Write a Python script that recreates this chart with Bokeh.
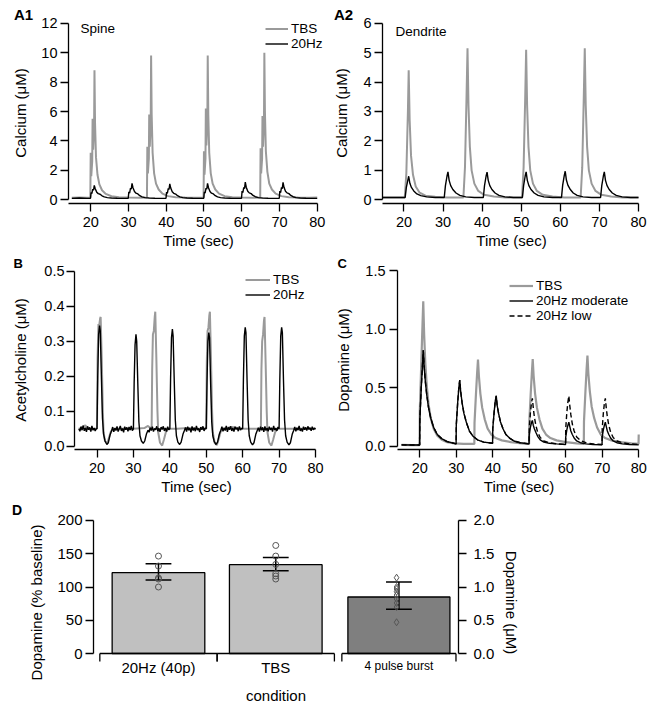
from bokeh.plotting import figure
from bokeh.models import (Range1d, LinearAxis, FixedTicker, Legend, LegendItem, Label, NumeralTickFormatter)
from bokeh.layouts import column, row
from bokeh.embed import file_html
from bokeh.resources import INLINE

# ---------------- data ----------------
# Panel A1: spine calcium (uM) vs time (s)
spine_tbs = [(15.0,0.14),(17.0,0.16),(19.0,0.14),(19.9,0.15),
    (20.0,3.2),(20.15,1.6),(20.4,2.6),(20.5,5.5),(20.65,3.4),(20.9,5.0),(21.0,8.8),(21.15,5.2),(21.4,2.9),(21.8,1.7),(22.3,1.05),(23.0,0.65),(24.0,0.4),(25.5,0.24),(27.5,0.17),(30.0,0.15),(33.0,0.14),(34.9,0.15),
    (35.0,3.6),(35.15,1.8),(35.4,2.8),(35.5,5.8),(35.65,3.6),(35.9,5.3),(36.0,9.8),(36.15,5.8),(36.4,3.2),(36.8,1.8),(37.3,1.1),(38.0,0.7),(39.0,0.42),(40.5,0.25),(42.5,0.17),(45.0,0.15),(48.0,0.14),(49.9,0.15),
    (50.0,3.3),(50.15,1.7),(50.4,2.8),(50.5,6.2),(50.65,3.7),(50.9,5.4),(51.0,9.8),(51.15,5.8),(51.4,3.2),(51.8,1.8),(52.3,1.1),(53.0,0.7),(54.0,0.42),(55.5,0.25),(57.5,0.17),(60.0,0.15),(63.0,0.14),(64.9,0.15),
    (65.0,3.5),(65.15,1.8),(65.4,2.8),(65.5,5.7),(65.65,3.6),(65.9,5.4),(66.0,10.0),(66.15,6.0),(66.4,3.3),(66.8,1.9),(67.3,1.1),(68.0,0.7),(69.0,0.42),(70.5,0.25),(72.5,0.17),(75.0,0.15),(78.0,0.14),(80.0,0.15)]
spine_20hz = [(15.0,0.1),(17.0,0.12),(19.0,0.1),(19.95,0.11),
    (20.1,0.5),(20.3,0.42),(20.55,0.72),(20.75,0.65),(20.95,0.98),(21.2,0.75),(21.6,0.52),(22.0,0.42),(22.5,0.38),(23.0,0.27),(23.6,0.2),(24.4,0.15),(25.5,0.12),(27.0,0.11),(29.0,0.1),(29.95,0.11),
    (30.1,0.55),(30.3,0.45),(30.55,0.8),(30.75,0.72),(30.95,1.12),(31.2,0.82),(31.6,0.56),(32.0,0.45),(32.5,0.4),(33.0,0.28),(33.6,0.2),(34.4,0.15),(35.5,0.12),(37.0,0.11),(39.0,0.1),(39.95,0.11),
    (40.1,0.52),(40.3,0.44),(40.55,0.78),(40.75,0.7),(40.95,1.08),(41.2,0.8),(41.6,0.55),(42.0,0.44),(42.5,0.39),(43.0,0.28),(43.6,0.2),(44.4,0.15),(45.5,0.12),(47.0,0.11),(49.0,0.1),(49.95,0.11),
    (50.1,0.55),(50.3,0.45),(50.55,0.8),(50.75,0.72),(50.95,1.12),(51.2,0.82),(51.6,0.56),(52.0,0.45),(52.5,0.4),(53.0,0.28),(53.6,0.2),(54.4,0.15),(55.5,0.12),(57.0,0.11),(59.0,0.1),(59.95,0.11),
    (60.1,0.6),(60.3,0.48),(60.55,0.85),(60.75,0.76),(60.95,1.2),(61.2,0.86),(61.6,0.58),(62.0,0.47),(62.5,0.42),(63.0,0.3),(63.6,0.21),(64.4,0.15),(65.5,0.12),(67.0,0.11),(69.0,0.1),(69.95,0.11),
    (70.1,0.6),(70.3,0.48),(70.55,0.85),(70.75,0.76),(70.95,1.18),(71.2,0.85),(71.6,0.58),(72.0,0.47),(72.5,0.42),(73.0,0.3),(73.6,0.21),(74.4,0.15),(75.5,0.12),(77.0,0.11),(80.0,0.1)]

# Panel A2: dendrite calcium (uM)
dend_tbs = [(13.5,0.08),(17.0,0.08),(20.2,0.08),
    (20.6,0.9),(21.0,3.0),(21.2,4.4),(21.45,2.7),(21.8,1.5),(22.3,0.85),(23.0,0.45),(24.0,0.24),(25.5,0.14),(28.0,0.1),(31.0,0.08),(35.2,0.08),
    (35.6,1.1),(36.0,3.5),(36.25,5.15),(36.5,3.2),(36.85,1.8),(37.3,1.0),(38.0,0.55),(39.0,0.3),(40.5,0.17),(43.0,0.11),(46.0,0.08),(50.2,0.08),
    (50.6,1.1),(51.0,3.4),(51.25,5.1),(51.5,3.2),(51.85,1.8),(52.3,1.0),(53.0,0.55),(54.0,0.3),(55.5,0.17),(58.0,0.11),(61.0,0.08),(65.2,0.08),
    (65.6,1.1),(66.0,3.5),(66.25,5.15),(66.5,3.2),(66.85,1.8),(67.3,1.0),(68.0,0.55),(69.0,0.3),(70.5,0.17),(73.0,0.11),(76.0,0.08),(80.0,0.08)]
dend_20hz = [(13.5,0.08),(17.0,0.08),(20.3,0.08),
    (20.6,0.42),(21.0,0.68),(21.2,0.8),(21.5,0.56),(21.9,0.42),(22.5,0.3),(23.3,0.2),(24.3,0.14),(25.8,0.1),(28.0,0.08),(30.3,0.08),
    (30.6,0.48),(31.0,0.8),(31.25,0.95),(31.55,0.66),(31.95,0.48),(32.5,0.35),(33.3,0.23),(34.3,0.15),(35.8,0.1),(38.0,0.08),(40.3,0.08),
    (40.6,0.48),(41.0,0.8),(41.25,0.94),(41.55,0.66),(41.95,0.48),(42.5,0.35),(43.3,0.23),(44.3,0.15),(45.8,0.1),(48.0,0.08),(50.3,0.08),
    (50.6,0.48),(51.0,0.8),(51.25,0.95),(51.55,0.66),(51.95,0.48),(52.5,0.35),(53.3,0.23),(54.3,0.15),(55.8,0.1),(58.0,0.08),(60.3,0.08),
    (60.6,0.5),(61.0,0.82),(61.25,0.97),(61.55,0.67),(61.95,0.49),(62.5,0.36),(63.3,0.23),(64.3,0.15),(65.8,0.1),(68.0,0.08),(70.3,0.08),
    (70.6,0.48),(71.0,0.8),(71.25,0.95),(71.55,0.66),(71.95,0.48),(72.5,0.35),(73.3,0.23),(74.3,0.15),(75.8,0.1),(78.0,0.08),(80.0,0.08)]

# Panel B: acetylcholine (uM)
ach_tbs = [(15.0,0.05),(15.5,0.052),(16.2,0.057),(16.8,0.06),(17.5,0.05),(18.5,0.048),(19.5,0.05),
    (20.0,0.05),(20.15,0.25),(20.4,0.35),(20.6,0.345),(20.85,0.365),(21.0,0.37),(21.3,0.25),(21.6,0.1),(21.8,0.04),(22.2,0.015),(22.8,0.008),(23.3,0.025),(23.8,0.042),(24.5,0.05),(27.0,0.05),(30.0,0.05),(33.0,0.052),(34.0,0.058),(34.9,0.05),
    (35.0,0.05),(35.15,0.22),(35.35,0.32),(35.6,0.33),(35.85,0.37),(36.0,0.385),(36.3,0.25),(36.6,0.1),(36.8,0.04),(37.3,0.01),(37.9,0.002),(38.4,0.02),(38.9,0.04),(39.5,0.05),(42.0,0.05),(45.0,0.052),(48.0,0.05),(49.9,0.05),
    (50.0,0.05),(50.15,0.24),(50.35,0.33),(50.6,0.34),(50.85,0.375),(51.0,0.385),(51.3,0.25),(51.6,0.1),(51.8,0.04),(52.3,0.01),(52.9,0.003),(53.4,0.02),(53.9,0.04),(54.5,0.05),(57.0,0.055),(60.0,0.05),(63.0,0.05),(64.9,0.05),
    (65.0,0.05),(65.15,0.22),(65.35,0.3),(65.6,0.32),(65.85,0.36),(66.0,0.37),(66.3,0.24),(66.6,0.1),(66.8,0.04),(67.3,0.01),(67.9,0.002),(68.4,0.02),(68.9,0.04),(69.5,0.05),(72.0,0.05),(75.0,0.05),(78.0,0.05),(80.0,0.05)]
ach_20hz = [(15.0,.050),(15.3,.043),(15.6,.056),(15.9,.046),(16.2,.059),(16.5,.044),(16.8,.053),(17.1,.041),(17.4,.057),(17.7,.047),(18.0,.054),(18.3,.042),(18.6,.058),(18.9,.046),(19.2,.052),(19.5,.044),(19.8,.051),
    (20.0,.050),(20.2,.200),(20.45,.320),(20.7,.345),(20.9,.330),(21.2,.200),(21.5,.080),(21.8,.035),(22.2,.015),(22.7,.005),(23.1,.010),(23.6,.033),(24.0,.044),
    (24.3,.055),(24.6,.041),(24.9,.052),(25.2,.045),(25.5,.057),(25.8,.042),(26.1,.050),(26.4,.058),(26.7,.044),(27.0,.051),(27.3,.040),(27.6,.056),(27.9,.047),(28.2,.054),(28.5,.043),(28.8,.055),(29.1,.046),(29.4,.058),(29.7,.045),
    (30.0,.050),(30.2,.180),(30.45,.290),(30.7,.320),(30.9,.300),(31.2,.180),(31.5,.070),(31.8,.030),(32.2,.015),(32.7,.008),(33.1,.015),(33.6,.036),(34.0,.046),
    (34.3,.040),(34.6,.053),(34.9,.045),(35.2,.056),(35.5,.042),(35.8,.051),(36.1,.047),(36.4,.057),(36.7,.043),(37.0,.052),(37.3,.041),(37.6,.055),(37.9,.048),(38.2,.057),(38.5,.044),(38.8,.052),(39.1,.042),(39.4,.056),(39.7,.047),
    (40.0,.050),(40.2,.190),(40.45,.310),(40.7,.335),(40.9,.315),(41.2,.190),(41.5,.075),(41.8,.030),(42.2,.012),(42.7,.005),(43.1,.012),(43.6,.034),(44.0,.045),
    (44.3,.054),(44.6,.042),(44.9,.056),(45.2,.046),(45.5,.052),(45.8,.040),(46.1,.057),(46.4,.045),(46.7,.053),(47.0,.043),(47.3,.058),(47.6,.046),(47.9,.051),(48.2,.041),(48.5,.055),(48.8,.047),(49.1,.057),(49.4,.044),(49.7,.052),
    (50.0,.050),(50.2,.180),(50.45,.300),(50.7,.325),(50.9,.310),(51.2,.180),(51.5,.070),(51.8,.030),(52.2,.013),(52.7,.005),(53.1,.012),(53.6,.035),(54.0,.046),
    (54.3,.056),(54.6,.043),(54.9,.052),(55.2,.045),(55.5,.058),(55.8,.041),(56.1,.054),(56.4,.047),(56.7,.057),(57.0,.044),(57.3,.052),(57.6,.042),(57.9,.056),(58.2,.048),(58.5,.053),(58.8,.043),(59.1,.057),(59.4,.046),(59.7,.051),
    (60.0,.050),(60.2,.190),(60.45,.315),(60.7,.340),(60.9,.325),(61.2,.190),(61.5,.075),(61.8,.030),(62.2,.012),(62.7,.004),(63.1,.010),(63.6,.034),(64.0,.045),
    (64.3,.053),(64.6,.042),(64.9,.056),(65.2,.046),(65.5,.054),(65.8,.041),(66.1,.057),(66.4,.045),(66.7,.052),(67.0,.043),(67.3,.056),(67.6,.047),(67.9,.053),(68.2,.042),(68.5,.058),(68.8,.046),(69.1,.052),(69.4,.044),(69.7,.055),
    (70.0,.050),(70.2,.190),(70.45,.315),(70.7,.340),(70.9,.325),(71.2,.190),(71.5,.075),(71.8,.030),(72.2,.012),(72.7,.004),(73.1,.010),(73.6,.034),(74.0,.045),
    (74.3,.055),(74.6,.043),(74.9,.053),(75.2,.046),(75.5,.058),(75.8,.044),(76.1,.051),(76.4,.042),(76.7,.056),(77.0,.047),(77.3,.054),(77.6,.045),(77.9,.057),(78.2,.048),(78.5,.053),(78.8,.044),(79.1,.056),(79.4,.047),(79.7,.052),(80.0,.049)]

# Panel C: dopamine (uM)
dop_tbs = [(15.0,0.012),(18.0,0.01),(19.95,0.01),
    (20.0,0.3),(20.4,0.7),(20.75,1.05),(20.95,1.24),(21.2,0.95),(21.5,0.72),(21.9,0.52),(22.4,0.36),(23.0,0.24),(23.8,0.15),(24.8,0.09),(26.0,0.055),(27.5,0.035),(29.5,0.025),(32.0,0.02),(34.95,0.02),
    (35.0,0.2),(35.4,0.45),(35.7,0.62),(35.95,0.74),(36.2,0.6),(36.6,0.45),(37.1,0.33),(37.8,0.23),(38.6,0.15),(39.6,0.1),(40.8,0.07),(42.5,0.05),(45.0,0.035),(48.0,0.025),(49.95,0.02),
    (50.0,0.2),(50.4,0.45),(50.7,0.62),(50.95,0.745),(51.2,0.6),(51.6,0.45),(52.1,0.33),(52.8,0.23),(53.6,0.15),(54.6,0.1),(55.8,0.07),(57.5,0.05),(60.0,0.035),(63.0,0.025),(64.95,0.02),
    (65.0,0.21),(65.4,0.47),(65.7,0.65),(65.95,0.775),(66.2,0.62),(66.6,0.47),(67.1,0.34),(67.8,0.24),(68.6,0.16),(69.6,0.1),(70.8,0.07),(72.5,0.05),(75.0,0.035),(78.0,0.025),(79.95,0.02),(80.0,0.1)]
dop_mod = [(15.0,0.012),(18.0,0.01),(19.95,0.01),
    (20.0,0.22),(20.4,0.5),(20.75,0.7),(20.95,0.82),(21.2,0.68),(21.5,0.56),(21.9,0.44),(22.4,0.33),(23.0,0.24),(23.8,0.16),(24.8,0.1),(26.0,0.065),(27.5,0.04),(29.95,0.02),
    (30.0,0.18),(30.4,0.38),(30.7,0.5),(30.95,0.565),(31.2,0.47),(31.6,0.37),(32.1,0.28),(32.8,0.2),(33.6,0.13),(34.6,0.085),(35.8,0.055),(37.5,0.035),(39.95,0.025),
    (40.0,0.15),(40.4,0.3),(40.7,0.39),(40.95,0.43),(41.2,0.35),(41.6,0.28),(42.1,0.21),(42.8,0.15),(43.6,0.1),(44.6,0.07),(45.8,0.045),(47.5,0.03),(49.95,0.02),
    (50.0,0.1),(50.3,0.16),(50.6,0.2),(50.85,0.22),(51.1,0.18),(51.4,0.15),(51.8,0.12),(52.3,0.085),(53.0,0.055),(54.0,0.035),(55.5,0.025),(57.5,0.02),(59.95,0.015),
    (60.0,0.08),(60.3,0.14),(60.6,0.18),(60.85,0.205),(61.1,0.17),(61.4,0.13),(61.8,0.1),(62.3,0.07),(63.0,0.045),(64.0,0.03),(65.5,0.02),(67.5,0.015),(69.95,0.012),
    (70.0,0.08),(70.3,0.14),(70.6,0.18),(70.85,0.205),(71.1,0.17),(71.4,0.13),(71.8,0.1),(72.3,0.07),(73.0,0.045),(74.0,0.03),(75.5,0.02),(77.5,0.015),(80.0,0.012)]
dop_low = [(15.0,0.012),(18.0,0.01),(19.95,0.01),
    (20.0,0.22),(20.4,0.5),(20.75,0.7),(20.95,0.82),(21.2,0.68),(21.5,0.56),(21.9,0.44),(22.4,0.33),(23.0,0.24),(23.8,0.16),(24.8,0.1),(26.0,0.065),(27.5,0.04),(29.95,0.02),
    (30.0,0.18),(30.4,0.38),(30.7,0.5),(30.95,0.565),(31.2,0.47),(31.6,0.37),(32.1,0.28),(32.8,0.2),(33.6,0.13),(34.6,0.085),(35.8,0.055),(37.5,0.035),(39.95,0.025),
    (40.0,0.15),(40.4,0.3),(40.7,0.39),(40.95,0.43),(41.2,0.35),(41.6,0.28),(42.1,0.21),(42.8,0.15),(43.6,0.1),(44.6,0.07),(45.8,0.045),(47.5,0.03),(49.95,0.02),
    (50.0,0.15),(50.3,0.28),(50.6,0.37),(50.85,0.41),(51.1,0.33),(51.4,0.25),(51.8,0.18),(52.3,0.12),(53.0,0.075),(54.0,0.045),(55.5,0.03),(57.5,0.02),(59.95,0.015),
    (60.0,0.15),(60.3,0.29),(60.6,0.38),(60.85,0.43),(61.1,0.35),(61.4,0.27),(61.8,0.19),(62.3,0.13),(63.0,0.08),(64.0,0.05),(65.5,0.03),(67.5,0.02),(69.95,0.015),
    (70.0,0.15),(70.3,0.28),(70.6,0.37),(70.85,0.41),(71.1,0.33),(71.4,0.25),(71.8,0.18),(72.3,0.12),(73.0,0.075),(74.0,0.045),(75.5,0.03),(77.5,0.02),(80.0,0.015)]

# Panel D: bars
categories = ["20Hz (40p)", "TBS", "4 pulse burst"]
pct_means = [121.5, 133.5]            # % baseline (left axis)
pct_err_low = [110.5, 124.5]
pct_err_high = [135.0, 144.5]
pct_points = [[146.5, 131.5, 113.5, 112.0, 100.0],
              [162.5, 146.5, 134.0, 120.0, 116.5, 112.0]]
um_mean = 0.85                        # uM (right axis)
um_err = [0.665, 1.075]
um_points = [1.14, 1.0, 0.97, 0.93, 0.88, 0.82, 0.76, 0.70, 0.47]

x_ticks = [20, 30, 40, 50, 60, 70, 80]

# ---------------- style ----------------
FONT = "Liberation Sans"
GRAY = "#9a9a9a"
BLACK = "#000000"

def unz(pairs):
    return [a for a, b in pairs], [b for a, b in pairs]

def make_fig(w, h, xr, yr, l, r, t, b):
    p = figure(width=w, height=h, x_range=Range1d(*xr), y_range=Range1d(*yr),
               output_backend="svg", toolbar_location=None,
               min_border_left=l, min_border_right=r, min_border_top=t, min_border_bottom=b)
    p.outline_line_color = None
    p.xgrid.grid_line_color = None
    p.ygrid.grid_line_color = None
    p.background_fill_color = "white"
    p.border_fill_color = "white"
    return p

def style_axis(ax, ticks, bounds, label, lab_standoff=3, axis_standoff=6, label_size="14.5px", fmt=None):
    ax.ticker = FixedTicker(ticks=ticks, minor_ticks=[])
    if fmt:
        ax.formatter = NumeralTickFormatter(format=fmt)
    ax.bounds = bounds
    ax.axis_label = label
    ax.axis_label_text_font = FONT
    ax.axis_label_text_font_size = "15px"
    ax.axis_label_text_font_style = "normal"
    ax.axis_label_text_color = BLACK
    ax.axis_label_standoff = axis_standoff
    ax.major_label_text_font = FONT
    ax.major_label_text_font_size = label_size
    ax.major_label_text_color = BLACK
    ax.major_label_standoff = lab_standoff
    ax.major_tick_out = 8
    ax.major_tick_in = 0
    ax.minor_tick_out = 0
    ax.minor_tick_in = 0
    ax.axis_line_width = 1.3
    ax.major_tick_line_width = 1.3
    ax.axis_line_color = BLACK
    ax.major_tick_line_color = BLACK

def panel_title(p, text, text_left, frame_left, size, valign="bottom"):
    p.title.text = text
    p.title.align = "left"
    p.title.offset = text_left - frame_left
    p.title.text_font = FONT
    p.title.text_font_size = size
    p.title.text_font_style = "bold"
    p.title.text_color = BLACK
    p.title.standoff = 0
    p.title.vertical_align = valign

def in_label(p, x, y, text, size="13.5px", align="left"):
    p.add_layout(Label(x=x, y=y, text=text, text_font=FONT, text_font_size=size,
                       text_align=align, text_baseline="middle", text_color=BLACK))

def add_legend(p, items, loc, glyph_w):
    lg = Legend(items=items, location=loc, orientation="vertical",
                background_fill_alpha=0, border_line_color=None,
                padding=0, margin=0, spacing=0,
                glyph_width=glyph_w, glyph_height=15, label_height=15,
                label_standoff=3, label_text_font=FONT, label_text_font_size="13.5px",
                label_text_color=BLACK)
    p.add_layout(lg)

# ---------------- A1 ----------------
a1 = make_fig(330, 253, (14.12, 82.99), (-0.251, 12.048), 68, 2, 22, 50)
t, y = unz(spine_tbs)
r_tbs = a1.line(t, y, line_color=GRAY, line_width=2)
t, y = unz(spine_20hz)
r_20 = a1.line(t, y, line_color=BLACK, line_width=1.4)
style_axis(a1.xaxis[0], x_ticks, (14.12, 80), "Time (sec)", lab_standoff=5, axis_standoff=2)
style_axis(a1.yaxis[0], [0, 2, 4, 6, 8, 10, 12], (0, 12), "Calcium (\u03bcM)", lab_standoff=3, axis_standoff=9)
in_label(a1, 17.3, 11.64, "Spine")
add_legend(a1, [LegendItem(label="TBS", renderers=[r_tbs]), LegendItem(label="20Hz", renderers=[r_20])], (197, 152), 23)
panel_title(a1, "A1", 13.5, 68, "15px")

# ---------------- A2 ----------------
a2 = make_fig(327, 253, (14.5, 80.51), (-0.126, 6.024), 52, 17, 22, 50)
t, y = unz(dend_tbs)
a2.line(t, y, line_color=GRAY, line_width=2)
t, y = unz(dend_20hz)
a2.line(t, y, line_color=BLACK, line_width=1.4)
style_axis(a2.xaxis[0], x_ticks, (14.5, 80), "Time (sec)", lab_standoff=5, axis_standoff=2)
style_axis(a2.yaxis[0], [0, 1, 2, 3, 4, 5, 6], (0, 6), "Calcium (\u03bcM)", lab_standoff=3, axis_standoff=10)
in_label(a2, 17.82, 5.72, "Dendrite")
panel_title(a2, "A2", 3.5, 52, "15px")

# ---------------- B ----------------
b = make_fig(330, 247, (13.82, 80.82), (-0.00929, 0.5028), 74, 12, 15, 50)
t, y = unz(ach_tbs)
rb_tbs = b.line(t, y, line_color=GRAY, line_width=2)
t, y = unz(ach_20hz)
rb_20 = b.line(t, y, line_color=BLACK, line_width=1.4)
style_axis(b.xaxis[0], x_ticks, (13.82, 80), "Time (sec)", lab_standoff=5, axis_standoff=2)
style_axis(b.yaxis[0], [0.0, 0.1, 0.2, 0.3, 0.4, 0.5], (0, 0.5), "Acetylcholine (\u03bcM)", lab_standoff=2, axis_standoff=12, fmt="0.0")
add_legend(b, [LegendItem(label="TBS", renderers=[rb_tbs]), LegendItem(label="20Hz", renderers=[rb_20])], (171, 147), 25)
panel_title(b, "B", 13, 74, "13px")

# ---------------- C ----------------
c = make_fig(327, 247, (13.89, 80.49), (-0.0279, 1.5025), 67, 17, 15, 51)
t, y = unz(dop_tbs)
rc_tbs = c.line(t, y, line_color=GRAY, line_width=2.2)
t, y = unz(dop_low)
rc_low = c.line(t, y, line_color=BLACK, line_width=1.4, line_dash="5 3")
t, y = unz(dop_mod)
rc_mod = c.line(t, y, line_color=BLACK, line_width=1.4)
style_axis(c.xaxis[0], x_ticks, (13.89, 80), "Time (sec)", lab_standoff=5, axis_standoff=2)
style_axis(c.yaxis[0], [0.0, 0.5, 1.0, 1.5], (0, 1.5), "Dopamine (\u03bcM)", lab_standoff=4, axis_standoff=10, fmt="0.0")
add_legend(c, [LegendItem(label="TBS", renderers=[rc_tbs]),
               LegendItem(label="20Hz moderate", renderers=[rc_mod]),
               LegendItem(label="20Hz low", renderers=[rc_low])], (112, 126), 24)
panel_title(c, "C", 7, 67, "13px")

# ---------------- D ----------------
# frame extends below zero so the category labels can sit inside it
d = make_fig(657, 208, (-0.054, 3.058), (-48.1, 201.5), 93, 199, 19, 23)
d.extra_y_ranges = {"um": Range1d(-0.481, 2.015)}
cat_x = [0.5, 1.5, 2.55]
bar_w = [0.79, 0.79, 0.87]
group_span = [1.0, 1.0, 0.973]
d.vbar(x=cat_x[:2], top=pct_means, width=bar_w[:2], bottom=0,
       fill_color="#c0c0c0", line_color=BLACK, line_width=1.3)
d.vbar(x=[cat_x[2]], top=[um_mean], width=bar_w[2], bottom=0, y_range_name="um",
       fill_color="#7f7f7f", line_color=BLACK, line_width=1.3)
cap = 0.11
for i in range(2):
    d.segment(x0=[cat_x[i]], y0=[pct_err_low[i]], x1=[cat_x[i]], y1=[pct_err_high[i]], line_color=BLACK, line_width=1.5)
    d.segment(x0=[cat_x[i]-cap]*2, y0=[pct_err_low[i], pct_err_high[i]], x1=[cat_x[i]+cap]*2,
              y1=[pct_err_low[i], pct_err_high[i]], line_color=BLACK, line_width=1.5)
    d.scatter(x=[cat_x[i]]*len(pct_points[i]), y=pct_points[i], marker="circle", size=6,
              fill_color=None, line_color="#555555", line_width=1)
d.segment(x0=[cat_x[2]], y0=[um_err[0]], x1=[cat_x[2]], y1=[um_err[1]], line_color=BLACK, line_width=1.5, y_range_name="um")
d.segment(x0=[cat_x[2]-cap]*2, y0=um_err, x1=[cat_x[2]+cap]*2, y1=um_err, line_color=BLACK, line_width=1.5, y_range_name="um")
d.scatter(x=[cat_x[2]-0.02]*len(um_points), y=um_points, marker="diamond", size=7,
          fill_color=None, line_color="#555555", line_width=1, y_range_name="um")

# category bracket axis (Igor style) drawn at y = 0
tick_len = 12.0  # data units (= 8 px)
for i in range(3):
    x0 = cat_x[i] - group_span[i] / 2
    x1 = cat_x[i] + group_span[i] / 2
    d.segment(x0=[x0, x0, x1], y0=[0, 0, 0], x1=[x1, x0, x1], y1=[0, -tick_len, -tick_len],
              line_color=BLACK, line_width=1.3)
for i in range(3):
    in_label(d, cat_x[i], -21.0 if i < 2 else -19.5, categories[i],
             size="15px" if i < 2 else "12px", align="center")

style_axis(d.yaxis[0], [0, 50, 100, 150, 200], (0, 200), "Dopamine (% baseline)", lab_standoff=3, axis_standoff=9, label_size="15px")
ax_r = LinearAxis(y_range_name="um")
style_axis(ax_r, [0.0, 0.5, 1.0, 1.5, 2.0], (0, 2.0), "Dopamine (\u03bcM)", lab_standoff=7, axis_standoff=6, label_size="15px", fmt="0.0")
d.add_layout(ax_r, "right")

xa = d.xaxis[0]
style_axis(xa, [], (0, 3.03), "condition", lab_standoff=0, axis_standoff=1, label_size="15px")
xa.axis_line_color = None
xa.major_tick_line_color = None
xa.major_tick_out = 0
panel_title(d, "D", 11.5, 93, "14px", valign="top")

layout = column(row(a1, a2), row(b, c), d)
open("out.html", "w").write(file_html(layout, INLINE))
